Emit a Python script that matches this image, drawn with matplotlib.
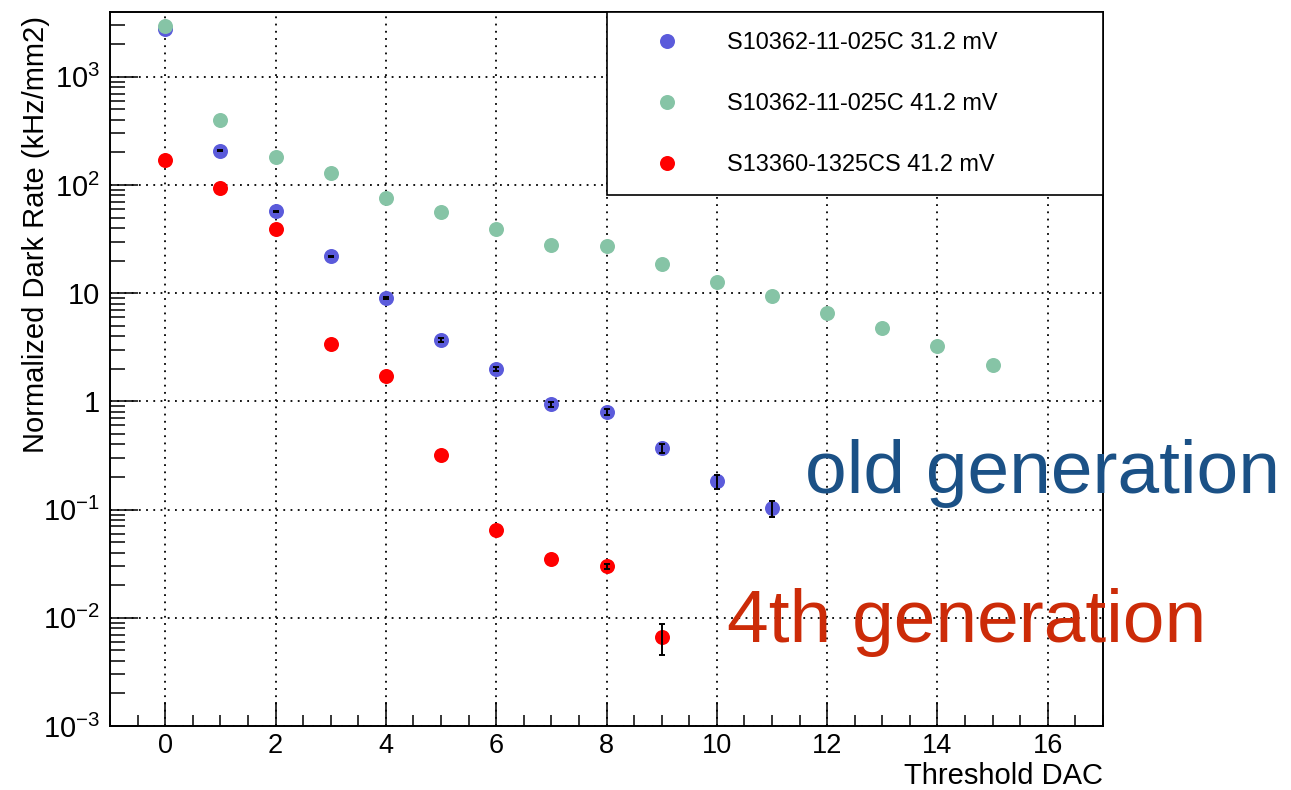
import matplotlib
matplotlib.use('Agg')
import matplotlib.pyplot as plt
import numpy as np
from matplotlib.ticker import MultipleLocator, LogLocator, NullFormatter, FixedLocator, FixedFormatter

plt.rcParams['font.family'] = ['Liberation Sans', 'DejaVu Sans']
plt.rcParams['mathtext.fontset'] = 'custom'
plt.rcParams['mathtext.rm'] = 'Liberation Sans'
plt.rcParams['mathtext.it'] = 'Liberation Sans'
plt.rcParams['mathtext.default'] = 'regular'

# ---------------- data ----------------
series_labels = ["S10362-11-025C 31.2 mV",
                 "S10362-11-025C 41.2 mV",
                 "S13360-1325CS 41.2 mV"]

x_old31 = [0, 1, 2, 3, 4, 5, 6, 7, 8, 9, 10, 11]
y_old31 = [2790, 208, 56.9, 21.9, 9.04, 3.72, 1.99, 0.937, 0.798, 0.367, 0.182, 0.103]
e_old31 = [0, 3, 1.0, 0.4, 0.2, 0.16, 0.10, 0.057, 0.053, 0.037, 0.027, 0.018]

x_old41 = [0, 1, 2, 3, 4, 5, 6, 7, 8, 9, 10, 11, 12, 13, 14, 15]
y_old41 = [2925, 395, 181, 130, 76.1, 56.5, 38.8, 28.0, 27.4, 18.7, 12.8, 9.44, 6.52, 4.73, 3.25, 2.19]

x_new41 = [0, 1, 2, 3, 4, 5, 6, 7, 8, 9]
y_new41 = [172, 93.4, 39.3, 3.40, 1.73, 0.321, 0.0646, 0.0348, 0.0300, 0.00665]
e_new41 = [0, 0, 0, 0, 0, 0, 0, 0, 0.0015, 0.0021]

ytick_values = [1e-3, 1e-2, 1e-1, 1, 10, 100, 1000]
ytick_labels = ['$10^{-3}$', '$10^{-2}$', '$10^{-1}$', '1', '10', '$10^{2}$', '$10^{3}$']
xtick_values = [0, 2, 4, 6, 8, 10, 12, 14, 16]

col_blue = '#5b5bdb'
col_green = '#86c4a6'
col_red = '#ff0000'

# ---------------- figure ----------------
W, H = 1291, 790
fig = plt.figure(figsize=(W / 100, H / 100), dpi=100)
ax = fig.add_axes([110 / W, 1 - 726 / H, 993 / W, 714 / H])
ax.set_yscale('log')
ax.set_xlim(-1, 17)
ax.set_ylim(1e-3, 3970)

ms = 10.8
h1, = ax.plot(x_old31, y_old31, 'o', color=col_blue, ms=ms, mec='none', zorder=3)
h2, = ax.plot(x_old41, y_old41, 'o', color=col_green, ms=ms, mec='none', zorder=3)
h3, = ax.plot(x_new41, y_new41, 'o', color=col_red, ms=ms, mec='none', zorder=3)


def draw_err(xs, ys, es):
    idx = [i for i, e in enumerate(es) if e > 0]
    ax.errorbar([xs[i] for i in idx], [ys[i] for i in idx],
                yerr=[es[i] for i in idx], fmt='none', ecolor='black',
                elinewidth=1.4, capsize=2.2, capthick=1.4, zorder=4)


draw_err(x_old31, y_old31, e_old31)
draw_err(x_new41, y_new41, e_new41)

# ticks
ax.xaxis.set_major_locator(FixedLocator(xtick_values))
ax.xaxis.set_minor_locator(MultipleLocator(0.5))
ax.yaxis.set_major_locator(FixedLocator(ytick_values))
ax.yaxis.set_major_formatter(FixedFormatter(ytick_labels))
ax.yaxis.set_minor_locator(LogLocator(base=10, subs=np.arange(2, 10)))
ax.yaxis.set_minor_formatter(NullFormatter())

ax.tick_params(axis='both', which='both', direction='in', top=False, right=False,
               width=1.1, color='black')
ax.tick_params(axis='y', which='major', length=20, pad=7, labelsize=21)
ax.tick_params(axis='y', which='minor', length=11)
ax.tick_params(axis='x', which='major', length=17, pad=5, labelsize=19.5)
ax.tick_params(axis='x', which='minor', length=8)

for s in ax.spines.values():
    s.set_linewidth(1.4)
    s.set_color('black')

ax.grid(True, which='major', color='black', linestyle=(0, (1, 3)), linewidth=1.3)
ax.set_axisbelow(True)

ax.set_ylabel('Normalized Dark Rate (kHz/mm2)', fontsize=21, loc='top')
ax.yaxis.set_label_coords(-0.060, 0.995)
ax.set_xlabel('Threshold DAC', fontsize=21, loc='right')
ax.xaxis.set_label_coords(1.0, -0.050)

leg = ax.legend([h1, h2, h3], series_labels, loc='upper left',
                bbox_to_anchor=(0.5005, 0.0, 0.4995, 1.0), mode='expand',
                borderaxespad=0, fontsize=16.9, frameon=True, fancybox=False,
                framealpha=1, edgecolor='black', borderpad=0.8,
                labelspacing=1.62, handlelength=3.55, handletextpad=0.78,
                numpoints=1)
leg.get_frame().set_linewidth(1.2)
for lh in leg.legend_handles:
    lh.set_markersize(ms)

fig.text(805 / W, 1 - 493 / H, 'old generation', fontsize=54,
         color='#1b5186', ha='left', va='baseline')
fig.text(727 / W, 1 - 642 / H, '4th generation', fontsize=54,
         color='#cc2b08', ha='left', va='baseline')

fig.savefig('out.png', dpi=100)
